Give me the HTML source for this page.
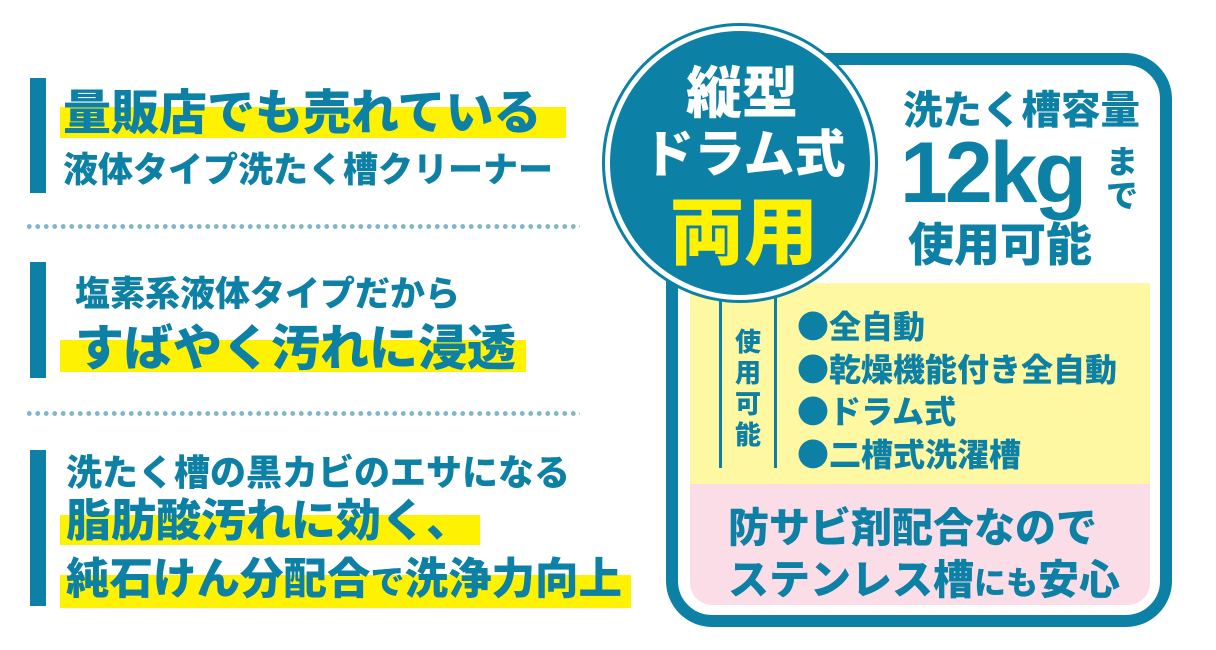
<!DOCTYPE html>
<html><head><meta charset="utf-8">
<style>
html,body{margin:0;padding:0;}
body{width:1216px;height:650px;position:relative;background:#fff;overflow:hidden;
font-family:"Liberation Sans","Noto Sans CJK JP",sans-serif;font-weight:900;color:#0d80a5;}
.a{position:absolute;white-space:nowrap;line-height:1;}
.bar{position:absolute;left:30px;width:16px;background:#0d80a5;}
.hl{position:absolute;background:#fff200;}
.dot{position:absolute;left:25px;width:555px;height:5px;
background-image:radial-gradient(circle,#7fb6c8 2.2px,transparent 2.6px);background-size:8.5px 5px;}
.j{font-family:"Noto Sans CJK JP",sans-serif;font-weight:900;}
</style></head><body>

<div class="bar" style="top:78px;height:115px"></div>
<div class="bar" style="top:262px;height:116px"></div>
<div class="bar" style="top:450px;height:156px"></div>

<div class="hl" style="left:60px;top:107px;width:506px;height:31px"></div>
<div class="hl" style="left:60px;top:340px;width:466px;height:32px"></div>
<div class="hl" style="left:60px;top:515px;width:420px;height:30px"></div>
<div class="hl" style="left:60px;top:575px;width:571px;height:33px"></div>

<div class="dot" style="top:224px"></div>
<div class="dot" style="top:411px"></div>

<div class="a j" style="left:63px;top:84px;font-size:48px;">量販店でも売れている</div>
<div class="a j" style="left:63px;top:150px;font-size:35px;">液体タイプ洗たく槽クリーナー</div>
<div class="a j" style="left:75px;top:274px;font-size:35px;">塩素系液体タイプだから</div>
<div class="a j" style="left:75px;top:320px;font-size:49px;">すばやく汚れに浸透</div>
<div class="a j" style="left:66px;top:452px;font-size:36px;">洗たく槽の黒カビのエサになる</div>
<div class="a j" style="left:66px;top:494px;font-size:45px;">脂肪酸汚れに効く、</div>
<div class="a j" style="left:66px;top:554px;font-size:43.5px;">純石けん分配合<span style="font-size:34px">で</span>洗浄力向上</div>

<!-- right box -->
<div style="position:absolute;left:666px;top:53px;width:482px;height:550px;border:12px solid #0d80a5;border-radius:46px;background:#fff;"></div>
<div style="position:absolute;left:690px;top:283px;width:460px;height:201px;background:#fff8a3;"></div>
<div style="position:absolute;left:690px;top:484px;width:460px;height:121px;background:#fbdde8;border-radius:0 0 22px 22px;"></div>
<div style="position:absolute;left:719px;top:298px;width:3px;height:170px;background:#0d80a5"></div>
<div style="position:absolute;left:774px;top:298px;width:3px;height:170px;background:#0d80a5"></div>
<div class="a j" style="left:735px;top:325px;font-size:26px;width:28px;white-space:normal;line-height:31px;">使用可能</div>
<div class="a j" style="left:797px;top:304px;font-size:32px;line-height:42.5px;">●全自動<br>●乾燥機能付き全自動<br>●ドラム式<br>●二槽式洗濯槽</div>
<div class="a j" style="left:728px;top:504px;font-size:41px;">防サビ剤配合なので</div>
<div class="a j" style="left:728px;top:556px;font-size:41px;">ステンレス槽<span style="font-size:32px">にも</span>安心</div>

<!-- circle -->
<div style="position:absolute;left:602px;top:23px;width:270px;height:274px;border-radius:50%;border:3px solid #0d80a5;background:#fff;"></div>
<div style="position:absolute;left:610px;top:31px;width:260px;height:264px;border-radius:50%;background:#0d80a5;"></div>
<div class="a j" style="left:686px;top:62px;font-size:56px;color:#fff;">縦型</div>
<div class="a j" style="left:643px;top:125px;font-size:51px;color:#fff;">ドラム式</div>
<div class="a j" style="left:670px;top:190px;font-size:74px;color:#fff200;">両用</div>

<div class="a j" style="left:903px;top:88px;font-size:39.5px;">洗たく槽容量</div>
<div class="a" style="left:900px;top:130px;font-size:86px;font-weight:bold;letter-spacing:-3px;font-family:'Liberation Sans',sans-serif;">12kg</div>
<div class="a j" style="left:1106px;top:143px;font-size:32px;width:34px;white-space:normal;line-height:34px;">まで</div>
<div class="a j" style="left:908px;top:219px;font-size:46px;">使用可能</div>
</body></html>
